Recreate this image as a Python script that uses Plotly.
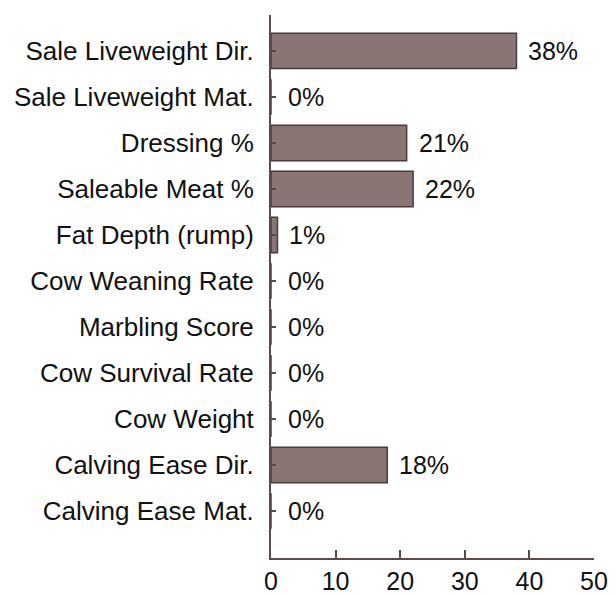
import plotly.graph_objects as go

categories = ["Sale Liveweight Dir.", "Sale Liveweight Mat.", "Dressing %", "Saleable Meat %",
              "Fat Depth (rump)", "Cow Weaning Rate", "Marbling Score", "Cow Survival Rate",
              "Cow Weight", "Calving Ease Dir.", "Calving Ease Mat."]
values = [38, 0, 21, 22, 1, 0, 0, 0, 0, 18, 0]
x_ticks = [0, 10, 20, 30, 40, 50]

FONT = "Liberation Sans, Arial, sans-serif"
FS = 25
AX = "#5a4b4b"

ypos = list(range(len(categories)))

fig = go.Figure(go.Bar(
    x=values, y=ypos, orientation="h", width=0.77,
    marker=dict(color="#8a7575", line=dict(color="#4b3b3b", width=1.5)),
    hoverinfo="skip",
))

for v, y in zip(values, ypos):
    fig.add_annotation(x=v, y=y, text=f"{v}%", showarrow=False, xanchor="left",
                       xshift=10 if v > 0 else 15, font=dict(family=FONT, size=FS, color="#111"))

# page body adds an ~8px offset, so the figure is sized to fill the remaining window
fig.update_layout(
    width=608, height=586,
    margin=dict(l=263, r=22, t=7, b=36),
    plot_bgcolor="white", paper_bgcolor="white",
    showlegend=False,
    font=dict(family=FONT, size=FS, color="#111"),
    xaxis=dict(range=[0, 50], tickvals=x_ticks, ticktext=[str(t) for t in x_ticks],
               showgrid=False, zeroline=False, showline=True, linecolor=AX, linewidth=2,
               ticks="inside", ticklen=8, tickwidth=2, tickcolor=AX, automargin=False,
               ticklabelstandoff=0, fixedrange=True),
    yaxis=dict(range=[11.02, -0.78], tickvals=ypos, ticktext=categories,
               tickfont=dict(family=FONT, size=26, color="#111"),
               showgrid=False, zeroline=False, showline=True, linecolor=AX, linewidth=2,
               ticks="inside", ticklen=5, tickwidth=1.5, tickcolor=AX, automargin=False,
               ticklabelstandoff=10, fixedrange=True),
)

fig.write_html("out.html")
